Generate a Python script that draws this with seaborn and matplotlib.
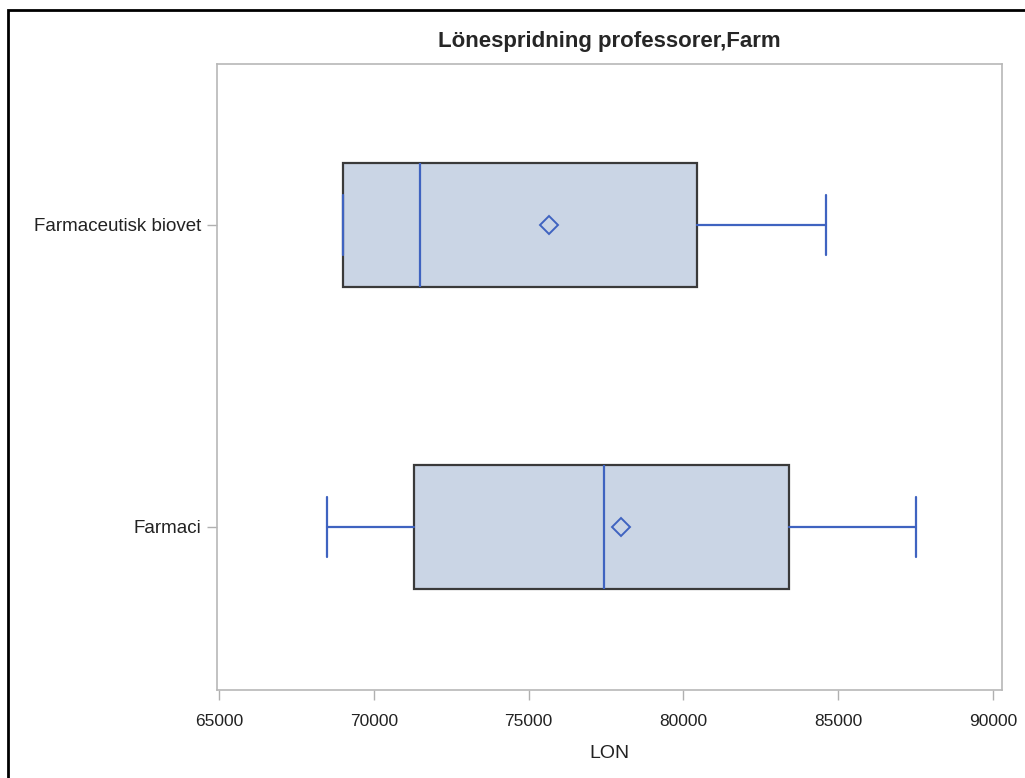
import numpy as np
import matplotlib
matplotlib.use("Agg")
import matplotlib.pyplot as plt
import seaborn as sns
from matplotlib.patches import Rectangle

# box stats (LON)
groups = ["Farmaceutisk biovet", "Farmaci"]
lon_min = [69000, 68500]
lon_q1 = [69000, 71300]
lon_med = [71500, 77450]
lon_q3 = [80450, 83400]
lon_max = [84600, 87500]
lon_mean = [75650, 78000]
xticks = [65000, 70000, 75000, 80000, 85000, 90000]

sns.set_style("white")
plt.rcParams['font.family'] = ['Liberation Sans', 'DejaVu Sans']

stats = []
for i, g in enumerate(groups):
    stats.append(dict(label=g, whislo=lon_min[i], q1=lon_q1[i], med=lon_med[i],
                      q3=lon_q3[i], whishi=lon_max[i], mean=lon_mean[i], fliers=[]))

fig = plt.figure(figsize=(10.25, 7.78), dpi=100)
ax = fig.add_axes([217/1025, 88/778, 785/1025, 626/778])

blue = "#3f63c0"
ax.bxp(stats, positions=range(len(groups)), orientation="horizontal",
       widths=0.41, capwidths=0.2, showmeans=True, patch_artist=True,
       boxprops=dict(facecolor="#cad5e5", edgecolor="#3a3a3a", linewidth=1.6),
       medianprops=dict(color=blue, linewidth=1.6),
       whiskerprops=dict(color=blue, linewidth=1.6),
       capprops=dict(color=blue, linewidth=1.6),
       meanprops=dict(marker="D", markerfacecolor="none", markeredgecolor=blue,
                      markersize=9, markeredgewidth=1.4))

ax.set_xlim(64935, 90290)
ax.set_ylim(1.54, -0.533)
ax.set_xticks(xticks)
ax.set_xticklabels([str(t) for t in xticks])
ax.set_yticks(range(len(groups)))
ax.set_yticklabels(groups)
ax.tick_params(axis="both", which="major", length=7, width=1, color="#b0b0b0",
               labelcolor="#222222", direction="out", bottom=True, left=True)
ax.tick_params(axis="x", labelsize=12.5, pad=10)
ax.tick_params(axis="y", labelsize=13.5, pad=4)
for s in ax.spines.values():
    s.set_color("#b8b8b8")
    s.set_linewidth(1.2)
ax.set_xlabel("LON", fontsize=14, color="#222222", labelpad=12)
ax.set_title("Lönespridning professorer,Farm", fontsize=16, fontweight="bold", pad=12)

# black frame around the graph image
fig.patches.append(Rectangle((8/1025, -0.05), 1.1, 1 - 10/778 + 0.05, transform=fig.transFigure,
                             fill=False, edgecolor="black", linewidth=2))

fig.savefig("out.png", dpi=100)
